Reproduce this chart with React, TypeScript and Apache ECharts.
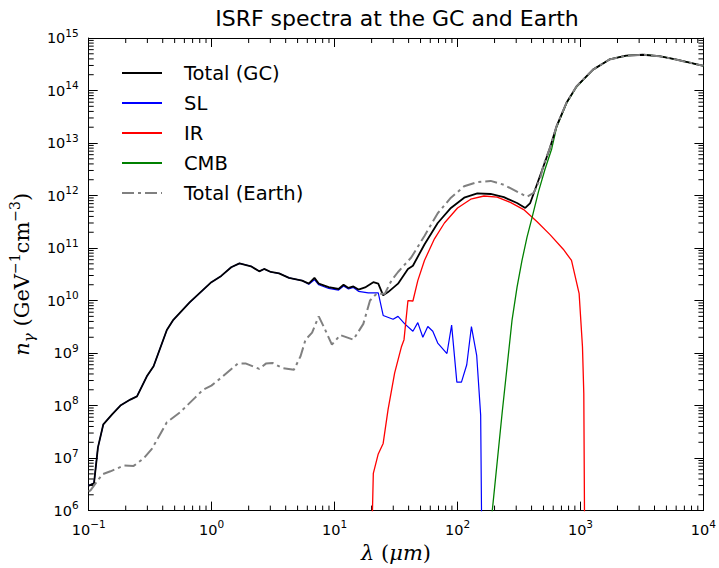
import React, { useEffect, useRef } from "react";
import * as echarts from "echarts";

// ---- data (wavelength in micrometres, photon density in GeV^-1 cm^-3) ----
const gcLambda = [0.1, 0.1104, 0.1189, 0.1315, 0.155, 0.181, 0.218, 0.247, 0.297, 0.337, 0.432, 0.488, 0.665, 0.995, 1.197, 1.442, 1.683, 2.089, 2.438, 2.673, 3.027, 3.532, 4.256, 5.445, 6.166, 6.855, 7.43, 8.95, 10.77, 11.83, 12.97, 14.22, 15.63, 17.7, 20.65, 22.65, 24.83, 27.23, 32.8, 39.5, 43.35, 53.8, 69.0, 88.3, 113.2, 144.9, 185.8, 238.2, 304.8, 355.6, 390, 441.6, 500, 564.9, 639.7, 770.9, 929, 1265, 1722, 2350, 3206, 4365, 5943, 10000];
const gcValues = [3.0e6, 3.3e6, 1.6e7, 4.4e7, 6.8e7, 1.0e8, 1.3e8, 1.5e8, 3.6e8, 5.6e8, 2.75e9, 4.3e9, 9.3e9, 2.24e10, 2.95e10, 4.3e10, 5.1e10, 4.5e10, 3.6e10, 4.0e10, 3.5e10, 3.3e10, 2.7e10, 2.4e10, 2.1e10, 2.7e10, 2.1e10, 1.8e10, 1.66e10, 2.0e10, 1.74e10, 1.86e10, 1.62e10, 1.78e10, 2.24e10, 2.1e10, 1.26e10, 1.45e10, 2.1e10, 4.0e10, 4.6e10, 1.17e11, 3.0e11, 5.8e11, 9.1e11, 1.1e12, 1.07e12, 9.3e11, 7.2e11, 5.8e11, 7.2e11, 1.6e12, 3.6e12, 8.1e12, 2.1e13, 5.9e13, 1.2e14, 2.5e14, 3.9e14, 4.6e14, 4.8e14, 4.5e14, 3.9e14, 2.95e14];

const slLambda = [0.1, 0.1104, 0.1189, 0.1315, 0.155, 0.181, 0.218, 0.247, 0.297, 0.337, 0.432, 0.488, 0.665, 0.995, 1.197, 1.442, 1.683, 2.089, 2.438, 2.673, 3.027, 3.532, 4.256, 5.445, 6.166, 6.855, 7.43, 8.95, 10.77, 11.83, 12.97, 14.22, 15.63, 18.8, 22.65, 24.83, 29.9, 32.8, 37.2, 43.35, 47.5, 52.2, 57.3, 62.9, 69.0, 82.0, 89.5, 98.7, 107.6, 118.8, 129.7, 143.2, 154.2, 158];
const slValues = [3.0e6, 3.3e6, 1.6e7, 4.4e7, 6.8e7, 1.0e8, 1.3e8, 1.5e8, 3.6e8, 5.6e8, 2.75e9, 4.3e9, 9.3e9, 2.24e10, 2.95e10, 4.3e10, 5.1e10, 4.5e10, 3.6e10, 4.0e10, 3.5e10, 3.3e10, 2.7e10, 2.4e10, 2.05e10, 2.5e10, 2.0e10, 1.7e10, 1.58e10, 1.9e10, 1.66e10, 1.78e10, 1.5e10, 1.4e10, 1.4e10, 5.2e9, 4.4e9, 5.0e9, 3.6e9, 2.6e9, 3.8e9, 2.0e9, 3.2e9, 2.6e9, 1.55e9, 9.8e8, 3.4e9, 2.8e8, 2.8e8, 6.0e8, 3.2e9, 8.9e8, 6.5e7, 1e5];

const irLambda = [19.86, 20.65, 22.65, 24.83, 27.23, 30.8, 34.9, 36.7, 39.5, 43.35, 47.5, 53.8, 64.9, 78.2, 100, 128, 164, 210, 269, 345, 441.6, 565, 724, 845, 975, 1038, 1064, 1084];
const irValues = [1e5, 5.1e6, 1.2e7, 1.9e7, 8.5e7, 4.2e8, 1.3e9, 1.8e9, 1.0e10, 9.8e9, 2.4e10, 5.8e10, 1.5e11, 3.0e11, 5.8e11, 8.5e11, 9.8e11, 9.3e11, 7.4e11, 5.4e11, 3.2e11, 1.8e11, 9.5e10, 5.8e10, 1.35e10, 1.3e9, 1.7e8, 1e5];

const cmbLambda = [189, 210.2, 230.7, 253.1, 277.7, 304.8, 334.4, 367.0, 402.7, 456.0, 515.2, 583.6, 639.7, 770.9, 929, 1265, 1722, 2350, 3206, 4365, 5943, 10000];
const cmbValues = [7.2e5, 8.5e6, 7.4e7, 5.6e8, 4.3e9, 1.8e10, 5.8e10, 1.6e11, 3.7e11, 1.2e12, 3.2e12, 7.8e12, 2.0e13, 5.75e13, 1.17e14, 2.5e14, 3.9e14, 4.6e14, 4.8e14, 4.5e14, 3.9e14, 2.95e14];

const earthLambda = [0.1, 0.1038, 0.1288, 0.1503, 0.1927, 0.2319, 0.2792, 0.3264, 0.432, 0.552, 0.73, 0.851, 0.995, 1.233, 1.629, 1.905, 2.438, 2.761, 3.119, 3.758, 4.667, 5.284, 5.801, 6.561, 7.43, 8.147, 9.51, 11.11, 14.22, 17.13, 19.41, 21.93, 25.62, 28.99, 32.8, 42.0, 53.8, 69.0, 88.3, 113.2, 144.9, 185.8, 238.2, 323.6, 367, 415.9, 469.9, 500, 564.9, 639.7, 770.9, 929, 1265, 1722, 2350, 3206, 4365, 5943, 10000];
const earthValues = [2.3e6, 2.45e6, 4.9e6, 5.6e6, 7.2e6, 7.1e6, 9.8e6, 1.5e7, 4.8e7, 7.4e7, 1.4e8, 2.0e8, 2.4e8, 3.6e8, 6.3e8, 6.3e8, 5.0e8, 6.3e8, 6.5e8, 5.2e8, 4.8e8, 8.7e8, 1.8e9, 2.45e9, 5.0e9, 3.2e9, 1.45e9, 2.2e9, 1.8e9, 3.6e9, 1.0e10, 1.35e10, 1.35e10, 2.4e10, 3.5e10, 6.6e10, 1.7e11, 4.6e11, 9.1e11, 1.5e12, 1.8e12, 1.9e12, 1.6e12, 1.1e12, 9.5e11, 1.12e12, 2.1e12, 3.8e12, 8.2e12, 2.1e13, 5.9e13, 1.2e14, 2.5e14, 3.9e14, 4.6e14, 4.8e14, 4.5e14, 3.9e14, 2.95e14];

const seriesNames = ["Total (GC)", "SL", "IR", "CMB", "Total (Earth)"];
const titleText = "ISRF spectra at the GC and Earth";

// axis ranges and minor tick decades
const xMin = 0.1, xMax = 10000;
const yMin = 1e6, yMax = 1e15;
const xDecades = [0.1, 1, 10, 100, 1000];
const yDecades = [1e6, 1e7, 1e8, 1e9, 1e10, 1e11, 1e12, 1e13, 1e14];
const minorMultipliers = [2, 3, 4, 5, 6, 7, 8, 9];

const xMinorTicks = xDecades.flatMap((d) => minorMultipliers.map((m) => d * m));
const yMinorTicks = yDecades.flatMap((d) => minorMultipliers.map((m) => d * m));

const pairs = (xs: number[], ys: number[]) => xs.map((x, i) => [x, ys[i]]);

const SANS = "DejaVu Sans";
const SERIF = "DejaVu Serif";

function logLabel(v: number) {
  const e = Math.round(Math.log10(v));
  const exp = e < 0 ? "\u2212" + -e : String(e);
  return `{b|10}{s|${exp}}`;
}

const tickRich = {
  b: { fontFamily: SANS, fontSize: 14.5, color: "#000", lineHeight: 22 },
  s: { fontFamily: SANS, fontSize: 10.5, color: "#000", lineHeight: 10, verticalAlign: "top" },
};

const nameRich = {
  i: { fontFamily: SERIF, fontStyle: "italic", fontSize: 21, color: "#000", lineHeight: 28 },
  r: { fontFamily: SERIF, fontSize: 21, color: "#000", lineHeight: 28 },
  sub: { fontFamily: SERIF, fontStyle: "italic", fontSize: 15, color: "#000", lineHeight: 14, verticalAlign: "bottom" },
  sup: { fontFamily: SERIF, fontSize: 14, color: "#000", lineHeight: 12, verticalAlign: "top" },
};

const axisLineStyle = { show: true, lineStyle: { color: "#000", width: 1 } };

function xAxisCfg(position: string, main: boolean) {
  return {
    type: "log",
    logBase: 10,
    min: xMin,
    max: xMax,
    splitNumber: 5,
    position,
    axisLine: axisLineStyle,
    axisTick: { show: true, inside: true, length: 9, lineStyle: { color: "#000", width: 1 } },
    axisLabel: main
      ? { show: true, formatter: logLabel, margin: 8, rich: tickRich, showMinLabel: true, showMaxLabel: true }
      : { show: false },
    splitLine: { show: false },
    name: main ? "{i|λ}{r| (}{i|μm}{r|)}" : "",
    nameLocation: "middle",
    nameGap: 27,
    nameTextStyle: { rich: nameRich },
  };
}

function yAxisCfg(position: string, main: boolean) {
  return {
    type: "log",
    logBase: 10,
    min: yMin,
    max: yMax,
    splitNumber: 9,
    position,
    axisLine: axisLineStyle,
    axisTick: { show: true, inside: true, length: 9, lineStyle: { color: "#000", width: 1 } },
    axisLabel: main
      ? { show: true, formatter: logLabel, margin: 10, rich: tickRich, showMinLabel: true, showMaxLabel: true }
      : { show: false },
    splitLine: { show: false },
    name: main ? "{i|n}{sub|γ}{r| (GeV}{sup|\u22121}{r|cm}{sup|\u22123}{r|)}" : "",
    nameLocation: "middle",
    nameGap: 44,
    nameRotate: 90,
    nameTextStyle: { rich: nameRich },
  };
}

export default function App() {
  const ref = useRef<HTMLDivElement>(null);

  useEffect(() => {
    if (!ref.current) return;
    const chart = echarts.init(ref.current, undefined, { renderer: "svg" });

    const lineSeries = (name: string, xs: number[], ys: number[], color: string, width: number, z: number, type: any = "solid") => ({
      name,
      type: "line",
      data: pairs(xs, ys),
      symbol: "none",
      showSymbol: false,
      clip: true,
      z,
      lineStyle: { color, width, type },
      itemStyle: { color },
      emphasis: { disabled: true },
    });

    const option: any = {
      animation: false,
      backgroundColor: "#fff",
      graphic: [
        {
          type: "text",
          x: 397,
          y: 18,
          style: {
            text: titleText,
            fontFamily: SANS,
            fontSize: 22,
            fill: "#000",
            textAlign: "center",
            textVerticalAlign: "middle",
          },
        },
      ],
      grid: { left: 88, right: 13, top: 38, bottom: 52, containLabel: false },
      legend: {
        show: true,
        orient: "vertical",
        left: 121,
        top: 63,
        padding: 0,
        itemWidth: 40,
        itemHeight: 20,
        itemGap: 10,
        data: seriesNames,
        selectedMode: false,
        itemStyle: { opacity: 0, color: "transparent", borderWidth: 0 },
        formatter: (name: string) => `{n|${name}}`,
        textStyle: {
          rich: {
            n: { fontFamily: SANS, fontSize: 19.5, color: "#000", lineHeight: 20, padding: [0, 0, 0, 17] },
          },
        },
      },
      xAxis: [xAxisCfg("bottom", true), xAxisCfg("top", false)],
      yAxis: [yAxisCfg("left", true), yAxisCfg("right", false)],
      series: [
        lineSeries(seriesNames[0], gcLambda, gcValues, "#000000", 1.8, 4),
        lineSeries(seriesNames[1], slLambda, slValues, "#0000ff", 1.2, 3),
        lineSeries(seriesNames[2], irLambda, irValues, "#ff0000", 1.3, 3),
        lineSeries(seriesNames[3], cmbLambda, cmbValues, "#008000", 1.3, 3),
        lineSeries(seriesNames[4], earthLambda, earthValues, "#808080", 2, 5, [12, 4, 3, 4]),
        {
          type: "custom",
          name: "xMinor",
          coordinateSystem: "cartesian2d",
          silent: true,
          clip: false,
          data: xMinorTicks.map((v) => [v, yMin]),
          renderItem: (params: any, api: any) => {
            const cs = params.coordSys;
            const p = api.coord([api.value(0), api.value(1)]);
            const yb = cs.y + cs.height;
            const st = { stroke: "#000", lineWidth: 1 };
            return {
              type: "group",
              children: [
                { type: "line", shape: { x1: p[0], y1: yb, x2: p[0], y2: yb - 5 }, style: st },
                { type: "line", shape: { x1: p[0], y1: cs.y, x2: p[0], y2: cs.y + 5 }, style: st },
              ],
            };
          },
        },
        {
          type: "custom",
          name: "yMinor",
          coordinateSystem: "cartesian2d",
          silent: true,
          clip: false,
          data: yMinorTicks.map((v) => [xMin, v]),
          renderItem: (params: any, api: any) => {
            const cs = params.coordSys;
            const p = api.coord([api.value(0), api.value(1)]);
            const xr = cs.x + cs.width;
            const st = { stroke: "#000", lineWidth: 1 };
            return {
              type: "group",
              children: [
                { type: "line", shape: { x1: cs.x, y1: p[1], x2: cs.x + 5, y2: p[1] }, style: st },
                { type: "line", shape: { x1: xr, y1: p[1], x2: xr - 5, y2: p[1] }, style: st },
              ],
            };
          },
        },
      ],
    };

    chart.setOption(option);
    return () => chart.dispose();
  }, []);

  return (
    <div
      ref={ref}
      style={{ position: "absolute", left: 0, top: 0, width: 719, height: 568, background: "#fff" }}
    />
  );
}
